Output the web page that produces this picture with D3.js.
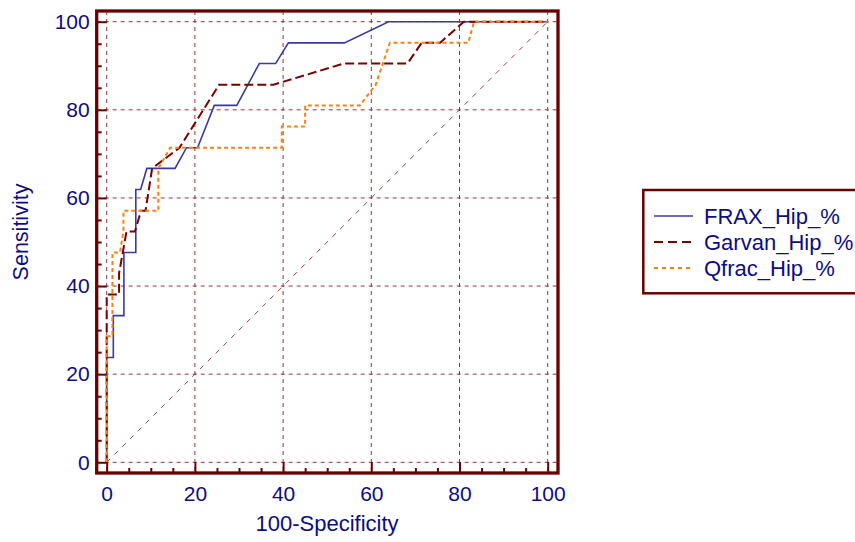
<!DOCTYPE html>
<html><head><meta charset="utf-8">
<script src="https://cdn.jsdelivr.net/npm/d3@7"></script>
<style>
html,body{margin:0;padding:0;background:#fff;}
svg{display:block;}
text{font-family:"Liberation Sans",Arial,sans-serif;}
</style></head>
<body>
<svg id="chart" width="855" height="542"></svg>
<script>
// ---- data ----
const seriesNames = ["FRAX_Hip_%", "Garvan_Hip_%", "Qfrac_Hip_%"];
const fraxX = [0,0,1.5,1.5,3.9,3.9,6.6,6.6,7.7,9.1,15.5,18.1,20.6,24.4,29.5,34.6,38.3,41.2,53.9,63.9,100];
const fraxY = [0,23.8,23.8,33.3,33.3,47.6,47.6,61.9,61.9,66.7,66.7,71.4,71.4,81.0,81.0,90.5,90.5,95.2,95.2,100,100];
const garvanX = [0,0,2.8,2.8,4.5,6.4,7.8,8.8,10.3,16.5,25.5,37.8,53.7,68.2,71.4,75.6,81,100];
const garvanY = [0,38.1,38.1,42.9,52.4,52.4,57.1,57.1,66.7,71.4,85.7,85.7,90.5,90.5,95.2,95.2,100,100];
const qfracX = [0,0,1.3,1.3,3.0,3.8,3.8,11.7,11.7,14.4,39.7,39.7,45,45,57.4,61,64.2,82,83.3,100];
const qfracY = [0,28.6,28.6,47.6,47.6,52.4,57.1,57.1,66.7,71.4,71.4,76.2,76.2,81.0,81.0,85.7,95.2,95.2,100,100];
const majorTicks = [0,20,40,60,80,100];
const minorTicks = [5,10,15,25,30,35,45,50,55,65,70,75,85,90,95];
const xLabel = "100-Specificity";
const yLabel = "Sensitivity";

// ---- layout ----
const svg = d3.select("#chart");
const x = d3.scaleLinear().domain([0,100]).range([106.7,547.7]);
const y = d3.scaleLinear().domain([0,100]).range([462.3,21.7]);
const frame = {l:96.7, r:558, t:11, b:473};
const maroon = "#6b0000";
const navy = "#0c0c84";

// grid
const grid = svg.append("g");
grid.selectAll("line.v").data(majorTicks).join("line")
  .attr("x1", d=>x(d)).attr("x2", d=>x(d)).attr("y1", frame.t).attr("y2", frame.b)
  .attr("stroke","#8c2020").attr("stroke-width",1).attr("stroke-dasharray","4,4").attr("opacity",0.9);
grid.selectAll("line.h").data(majorTicks).join("line")
  .attr("y1", d=>y(d)).attr("y2", d=>y(d)).attr("x1", frame.l).attr("x2", frame.r)
  .attr("stroke","#8c2020").attr("stroke-width",1).attr("stroke-dasharray","4,4").attr("opacity",0.9);

// diagonal reference
svg.append("line").attr("x1",x(0)).attr("y1",y(0)).attr("x2",x(100)).attr("y2",y(100))
  .attr("stroke","#903030").attr("stroke-width",1).attr("stroke-dasharray","5,6").attr("opacity",0.9);

// curves
const line = d3.line().x(d=>x(d[0])).y(d=>y(d[1]));
const curves = [
  {xs:fraxX, ys:fraxY, color:"#3a3aa2", w:1.6, dash:null},
  {xs:garvanX, ys:garvanY, color:"#7a0000", w:2, dash:"9,4"},
  {xs:qfracX, ys:qfracY, color:"#ff7f10", w:2, dash:"4,3"}
];
curves.forEach(c=>{
  const pts = c.xs.map((v,i)=>[v,c.ys[i]]);
  svg.append("path").datum(pts).attr("d",line).attr("fill","none")
    .attr("stroke",c.color).attr("stroke-width",c.w)
    .attr("stroke-dasharray",c.dash);
});

// axes with inward ticks
function styleAxis(g){
  g.select(".domain").remove();
  g.selectAll(".tick line").attr("stroke",maroon).attr("stroke-width",2);
  g.selectAll(".tick text").attr("fill",navy).style("font-size","21px")
    .style("font-family","'Liberation Sans',Arial,sans-serif");
}
svg.append("g").attr("transform",`translate(0,${frame.b})`)
  .call(d3.axisBottom(x).tickValues(majorTicks).tickSize(-11).tickPadding(13).tickFormat(d3.format("d")))
  .call(styleAxis);
svg.append("g").attr("transform",`translate(0,${frame.b})`)
  .call(d3.axisBottom(x).tickValues(minorTicks).tickSize(-5).tickFormat(""))
  .call(styleAxis);
svg.append("g").attr("transform",`translate(${frame.l},0)`)
  .call(d3.axisLeft(y).tickValues(majorTicks).tickSize(-10).tickPadding(7).tickFormat(d3.format("d")))
  .call(styleAxis);
svg.append("g").attr("transform",`translate(${frame.l},0)`)
  .call(d3.axisLeft(y).tickValues(minorTicks).tickSize(-5).tickFormat(""))
  .call(styleAxis);

// frame
svg.append("rect").attr("x",frame.l).attr("y",frame.t)
  .attr("width",frame.r-frame.l).attr("height",frame.b-frame.t)
  .attr("fill","none").attr("stroke",maroon).attr("stroke-width",3.3);

// axis titles
svg.append("text").attr("x",327).attr("y",531).attr("text-anchor","middle")
  .attr("fill",navy).style("font-size","22px").text(xLabel);
svg.append("text").attr("transform","translate(28,232) rotate(-90)").attr("text-anchor","middle")
  .attr("fill",navy).style("font-size","21.5px").text(yLabel);

// legend
const lg = svg.append("g");
lg.append("rect").attr("x",643.3).attr("y",190).attr("width",230).attr("height",103.3)
  .attr("fill","none").attr("stroke",maroon).attr("stroke-width",2.5);
const legDash = [null,"9,5","4,4"];
seriesNames.forEach((n,i)=>{
  const cy = 216 + i*26;
  lg.append("line").attr("x1",654).attr("x2",693).attr("y1",cy).attr("y2",cy)
    .attr("stroke",curves[i].color).attr("stroke-width",curves[i].w).attr("stroke-dasharray",legDash[i]);
  lg.append("text").attr("x",704).attr("y",cy+7.5).attr("fill",navy)
    .style("font-size","22px").text(n);
});
</script>
</body></html>
